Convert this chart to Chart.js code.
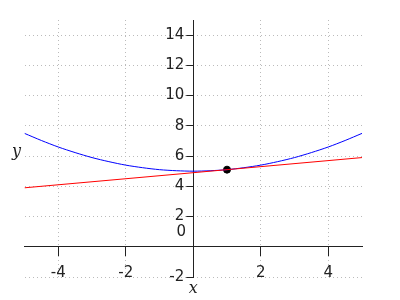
<!DOCTYPE html>
<html>
<head>
<meta charset="utf-8">
<script src="https://cdn.jsdelivr.net/npm/chart.js@4/dist/chart.umd.min.js"></script>
<style>
html, body { margin: 0; padding: 0; background: #fff; }
</style>
</head>
<body>
<canvas id="myChart" width="400" height="300"></canvas>
<script>
// values
var curveX = [-5, -4.5, -4, -3.5, -3, -2.5, -2, -1.5, -1, -0.5, 0, 0.5, 1, 1.5, 2, 2.5, 3, 3.5, 4, 4.5, 5];
var curveY = [7.5, 7.03, 6.6, 6.23, 5.9, 5.63, 5.4, 5.23, 5.1, 5.03, 5, 5.03, 5.1, 5.23, 5.4, 5.63, 5.9, 6.23, 6.6, 7.03, 7.5];
var lineX = [-5, 5];
var lineY = [3.9, 5.9];
var pointX = [1];
var pointY = [5.1];
var xTicks = [-4, -2, 2, 4];
var yTicks = [-2, 2, 4, 6, 8, 10, 12, 14];

function pairs(xs, ys) {
    return xs.map(function (x, i) { return {x: x, y: ys[i]}; });
}

// move the y axis onto x = 0, draw the lone "0" and the axis names
var axisText = {
    id: 'axisText',
    afterLayout: function (chart) {
        var ys = chart.scales.y;
        var x0 = chart.scales.x.getPixelForValue(0);
        ys.left = 0;  // labels are clipped to the scale box
        ys.right = x0;
    },
    afterDraw: function (chart) {
        var c = chart.ctx, a = chart.chartArea;
        var x0 = chart.scales.x.getPixelForValue(0);
        var y0 = chart.scales.y.getPixelForValue(0);
        c.save();
        c.fillStyle = '#222';
        c.textAlign = 'center';
        c.textBaseline = 'middle';
        c.font = '15px "DejaVu Sans"';
        c.fillText('0', x0 - 12, y0 - 15);
        c.font = 'italic 16px "DejaVu Serif"';
        c.fillText('y', a.left - 8, (a.top + a.bottom) / 2 + 3);
        c.fillText('x', x0, a.bottom + 12);
        c.restore();
    }
};

var tickFont = {family: 'DejaVu Sans', size: 15};

var ctx = document.getElementById('myChart');
var myChart = new Chart(ctx, {
    type: 'scatter',
    data: {
        datasets: [
            {
                data: pairs(lineX, lineY),
                showLine: true,
                borderColor: '#ff0000',//red
                borderWidth: 1,
                pointRadius: 0
            },
            {
                data: pairs(curveX, curveY),
                showLine: true,
                borderColor: '#0000ff',//blue
                borderWidth: 1,
                pointRadius: 0,
                tension: 0.3
            },
            {
                data: pairs(pointX, pointY),
                backgroundColor: '#000',
                borderColor: '#000',
                pointRadius: 3.5
            }
        ]
    },
    plugins: [axisText],
    options: {
        responsive: false,
        animation: false,
        layout: { padding: {left: 24.5, right: 38, top: 20, bottom: 23} },
        plugins: { legend: {display: false}, tooltip: {enabled: false} },
        scales: {
            x: {
                type: 'linear',
                min: -5,
                max: 5,
                position: {y: 0},
                afterBuildTicks: function (s) { s.ticks = xTicks.map(function (v) { return {value: v}; }); },
                afterFit: function (s) { s.height = 0; },
                grid: { color: '#bbb', tickColor: '#222', tickLength: 9, tickBorderDash: [] },
                border: { color: '#222', width: 1, dash: [1, 3] },
                ticks: { font: tickFont, color: '#222', padding: 8, maxRotation: 0 }
            },
            y: {
                type: 'linear',
                min: -2,
                max: 15,
                position: 'left',
                afterBuildTicks: function (s) { s.ticks = yTicks.map(function (v) { return {value: v}; }); },
                afterFit: function (s) { s.width = 0; },
                grid: { color: '#bbb', tickColor: '#222', tickLength: 7, tickBorderDash: [] },
                border: { color: '#222', width: 1, dash: [1, 3] },
                ticks: { font: tickFont, color: '#222', padding: 2 }
            }
        }
    }
});
</script>
</body>
</html>
